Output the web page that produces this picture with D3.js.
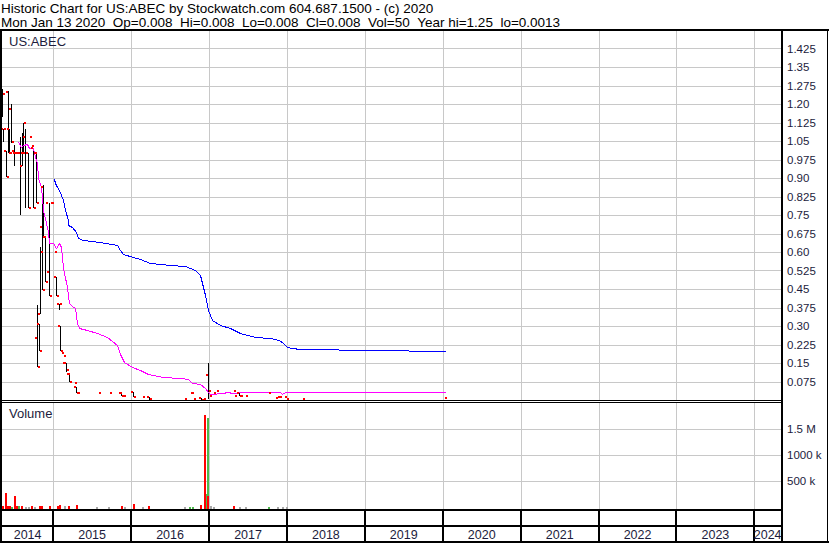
<!DOCTYPE html>
<html>
<head>
<meta charset="utf-8">
<script src="https://cdnjs.cloudflare.com/ajax/libs/d3/7.8.5/d3.min.js"></script>
<style>
body { margin: 0; background: #fff; }
svg { display: block; font-family: 'Liberation Sans', Arial, sans-serif; }
</style>
</head>
<body>
<div class="canvas"></div>
<script>
// header texts
const titleLine = 'Historic Chart for US:ABEC by Stockwatch.com 604.687.1500 - (c) 2020';
const quoteLine = 'Mon Jan 13 2020  Op=0.008  Hi=0.008  Lo=0.008  Cl=0.008  Vol=50  Year hi=1.25  lo=0.0013';
const symbol = 'US:ABEC';

// axis labels
const years = ['2014', '2015', '2016', '2017', '2018', '2019', '2020', '2021', '2022', '2023', '2024'];
const priceTicks = [0.075, 0.15, 0.225, 0.30, 0.375, 0.45, 0.525, 0.60, 0.675, 0.75, 0.825, 0.90, 0.975, 1.05, 1.125, 1.20, 1.275, 1.35, 1.425];
const volTicks = [500000, 1000000, 1500000];
const volLabels = ['500 k', '1000 k', '1.5 M'];

// price bars
const barDates = ['2014-05-08', '2014-05-12', '2014-05-26', '2014-06-04', '2014-06-10', '2014-06-16', '2014-06-26', '2014-07-03',
    '2014-07-12', '2014-07-21', '2014-07-29', '2014-08-07', '2014-08-14', '2014-08-22', '2014-09-05', '2014-09-13',
    '2014-09-24', '2014-09-29', '2014-10-07', '2014-10-12', '2014-10-19', '2014-10-26', '2014-11-02', '2014-11-09',
    '2014-11-16', '2014-11-22', '2014-11-29', '2014-12-13', '2014-12-20', '2014-12-27', '2015-01-08', '2015-01-14',
    '2015-01-20', '2015-01-26', '2015-02-02', '2015-02-09', '2015-02-14', '2015-02-19', '2015-03-04', '2015-03-10',
    '2015-03-14', '2015-04-12', '2015-04-19', '2015-04-26', '2015-08-03', '2015-09-23', '2015-11-09', '2015-11-17',
    '2015-11-28', '2016-01-11', '2016-02-24', '2016-03-26', '2016-09-12', '2016-10-08', '2016-10-14', '2016-10-21',
    '2016-11-23', '2016-12-10', '2016-12-28', '2017-01-05', '2017-01-24', '2017-02-08', '2017-04-27', '2017-05-04',
    '2017-05-22', '2017-05-30', '2017-06-22', '2017-10-08', '2017-11-10', '2017-11-22', '2017-11-29', '2017-12-22',
    '2017-12-30', '2018-03-15', '2020-01-13'];
const barOpen = [1.15, 1.10, 1.01, 1.25, 1.10, 1.18, 1.00, 1.01, 1.00, 1.00, 1.00, 0.95, 1.00, 1.00, 1.00, 1.066,
    1.03, 1.02, 1.00, 1.00, 0.25, 0.31, 0.35, 0.70, 0.865, 0.66, 0.80, 0.52, 0.80, 0.80, 0.60, 0.50,
    0.42, 0.39, 0.30, 0.19, 0.15, 0.18, 0.15, 0.104, 0.105, 0.070, 0.054, 0.03, 0.03, 0.03, 0.03, 0.03,
    0.016, 0.034, 0.0134, 0.0134, 0.004, 0.027, 0.027, 0.004, 0.009, 0.003, 0.10, 0.016, 0.027, 0.038, 0.038, 0.017,
    0.03, 0.017, 0.017, 0.027, 0.009, 0.013, 0.013, 0.013, 0.004, 0.004, 0.008];
const barHigh = [1.26, 1.10, 1.01, 1.253, 1.10, 1.20, 1.00, 1.034, 1.00, 1.00, 1.066, 1.082, 1.123, 1.10, 1.00, 1.066,
    1.03, 1.02, 1.00, 1.00, 0.385, 0.31, 0.62, 0.82, 0.87, 0.66, 0.80, 0.80, 0.80, 0.80, 0.60, 0.50,
    0.42, 0.39, 0.30, 0.19, 0.15, 0.18, 0.15, 0.104, 0.105, 0.070, 0.054, 0.03, 0.03, 0.03, 0.03, 0.03,
    0.016, 0.034, 0.0134, 0.0134, 0.004, 0.027, 0.027, 0.004, 0.009, 0.003, 0.151, 0.016, 0.027, 0.038, 0.038, 0.017,
    0.03, 0.017, 0.017, 0.027, 0.009, 0.013, 0.013, 0.013, 0.004, 0.004, 0.008];
const barLow = [1.147, 1.046, 0.905, 1.00, 1.00, 1.042, 1.00, 0.949, 1.00, 1.00, 0.75, 0.95, 0.997, 0.78, 0.78, 1.066,
    1.03, 0.78, 1.00, 0.80, 0.134, 0.20, 0.35, 0.446, 0.657, 0.48, 0.80, 0.42, 0.80, 0.80, 0.60, 0.42,
    0.42, 0.365, 0.20, 0.19, 0.15, 0.18, 0.115, 0.104, 0.073, 0.070, 0.03, 0.03, 0.03, 0.03, 0.03, 0.016,
    0.016, 0.0134, 0.0134, 0.001, 0.004, 0.027, 0.027, 0.004, 0.001, 0.003, 0.003, 0.016, 0.027, 0.038, 0.038, 0.017,
    0.016, 0.017, 0.017, 0.027, 0.009, 0.013, 0.013, 0.013, 0.004, 0.004, 0.008];
const barClose = [1.24, 1.10, 0.905, 1.00, 1.00, 1.046, 1.00, 1.00, 1.00, 1.00, 1.00, 1.066, 1.123, 1.00, 0.78, 1.066,
    1.03, 0.78, 1.00, 0.80, 0.134, 0.20, 0.60, 0.446, 0.66, 0.48, 0.80, 0.42, 0.80, 0.80, 0.60, 0.42,
    0.42, 0.39, 0.20, 0.19, 0.15, 0.18, 0.12, 0.104, 0.074, 0.070, 0.03, 0.03, 0.03, 0.03, 0.03, 0.016,
    0.016, 0.0134, 0.0134, 0.004, 0.004, 0.027, 0.027, 0.004, 0.002, 0.003, 0.038, 0.016, 0.027, 0.038, 0.038, 0.017,
    0.017, 0.017, 0.017, 0.027, 0.009, 0.013, 0.013, 0.013, 0.004, 0.004, 0.008];

// moving averages
const maShortDates = ['2014-07-21', '2014-08-01', '2014-08-13', '2014-08-29', '2014-09-10', '2014-09-29', '2014-10-10',
    '2014-10-18', '2014-10-24', '2014-11-03', '2014-11-09', '2014-11-15', '2014-11-28', '2014-12-09', '2014-12-14',
    '2015-01-01', '2015-01-12', '2015-01-28', '2015-02-06', '2015-02-17', '2015-03-05', '2015-03-14', '2015-03-28',
    '2015-04-13', '2015-04-24', '2015-05-02', '2015-06-07', '2015-07-24', '2015-09-08', '2015-10-25', '2015-11-10',
    '2015-11-28', '2016-01-04', '2016-02-11', '2016-03-21', '2016-05-31', '2016-08-17', '2016-09-25', '2016-10-11',
    '2016-11-19', '2016-12-12', '2016-12-28', '2017-01-05', '2017-03-08', '2017-03-24', '2017-04-24', '2017-06-18',
    '2017-11-29', '2017-12-07', '2017-12-22', '2020-01-13'];
const maShortValues = [1.047, 1.027, 1.034, 1.038, 1.020, 1.020, 0.986, 0.960, 0.899, 0.865, 0.824, 0.770, 0.716,
    0.682, 0.638, 0.635, 0.617, 0.638, 0.621, 0.534, 0.459, 0.392, 0.381, 0.372, 0.311, 0.291, 0.284, 0.273, 0.254,
    0.223, 0.186, 0.155, 0.135, 0.122, 0.104, 0.094, 0.090, 0.084, 0.070, 0.065, 0.047, 0.034, 0.024, 0.027, 0.031,
    0.027, 0.031, 0.031, 0.023, 0.031, 0.031];
const maLongDates = ['2015-01-05', '2015-01-09', '2015-01-17', '2015-01-29', '2015-02-06', '2015-02-14', '2015-02-25',
    '2015-03-10', '2015-03-12', '2015-03-28', '2015-04-17', '2015-04-25', '2015-05-22', '2015-08-08', '2015-10-25',
    '2015-11-10', '2015-11-25', '2016-01-11', '2016-02-12', '2016-03-29', '2016-07-01', '2016-09-09', '2016-10-26',
    '2016-11-19', '2016-12-12', '2016-12-26', '2017-01-14', '2017-02-21', '2017-04-09', '2017-05-26', '2017-08-04',
    '2017-10-13', '2017-11-26', '2017-12-14', '2017-12-30', '2018-01-23', '2018-03-03', '2018-08-29', '2018-09-01',
    '2019-07-23', '2019-07-27', '2020-01-13'];
const maLongValues = [0.896, 0.878, 0.862, 0.851, 0.831, 0.811, 0.770, 0.730, 0.709, 0.703, 0.682, 0.656, 0.649,
    0.642, 0.628, 0.608, 0.592, 0.581, 0.570, 0.555, 0.547, 0.543, 0.527, 0.507, 0.426, 0.365, 0.324, 0.304, 0.292,
    0.272, 0.255, 0.251, 0.243, 0.230, 0.216, 0.210, 0.206, 0.206, 0.201, 0.201, 0.197, 0.197];

// volume (u = up, d = down, n = unchanged)
const volDates = ['2014-05-07', '2014-05-21', '2014-05-28', '2014-06-04', '2014-06-10', '2014-06-16', '2014-07-02',
    '2014-07-10', '2014-07-20', '2014-08-05', '2014-08-20', '2014-09-05', '2014-09-20', '2014-10-05', '2014-10-25',
    '2014-11-05', '2014-12-10', '2015-01-20', '2015-01-29', '2015-02-20', '2015-03-10', '2015-04-17', '2015-07-22',
    '2015-09-13', '2015-11-15', '2015-11-28', '2016-01-09', '2016-02-21', '2016-03-22', '2016-09-07', '2016-10-01',
    '2016-10-11', '2016-11-21', '2016-12-09', '2016-12-16', '2016-12-22', '2016-12-23', '2017-01-05', '2017-01-20',
    '2017-04-22', '2017-05-20', '2017-06-20', '2017-10-02', '2017-11-15', '2017-12-10', '2017-12-28'];
const volValues = [19000, 277000, 28000, 28000, 28000, 8000, 208000, 10000, 19000, 25000, 8000, 8000, 25000, 8000,
    20000, 10000, 12000, 15000, 47000, 15000, 12000, 38000, 8000, 8000, 15000, 8000, 57000, 8000, 28000, 8000, 8000,
    8000, 38000, 1755000, 245000, 1710000, 202000, 15000, 8000, 12000, 8000, 8000, 8000, 8000, 8000, 8000];
const volDir = ['d', 'd', 'd', 'd', 'd', 'u', 'd', 'd', 'u', 'd', 'n', 'n', 'd', 'n', 'd', 'd', 'd', 'd', 'd', 'n', 'd',
    'd', 'n', 'n', 'd', 'n', 'd', 'n', 'd', 'n', 'u', 'u', 'd', 'd', 'u', 'u', 'd', 'n', 'n', 'd', 'n', 'n', 'u', 'n', 'n', 'n'];

const parse = d3.timeParse('%Y-%m-%d');

// select svg container
const svg = d3.select('.canvas')
    .append('svg')
    .attr('width', 830)
    .attr('height', 543)
    .attr('shape-rendering', 'crispEdges');

// layout
const left = 2, right = 781;
const priceTop = 31, priceBottom = 400;
const volTop = 403, volBottom = 509;
const textColor = '#1c1c3c';
const gridColor = '#c8c8c8';

// scales
const x = d3.scaleTime()
    .domain([parse('2014-05-06'), parse('2024-05-05')])
    .range([left, right]);
const yPrice = d3.scaleLinear()
    .domain([0, 1.5])
    .range([priceBottom, 30]);
const yVol = d3.scaleLinear()
    .domain([0, 1500000])
    .range([507, 428.5]);

const yearStarts = years.slice(1).map(y => parse(y + '-01-01'));

// header - double spaces kept with a no-break space
svg.append('text').attr('x', 1).attr('y', 12.5).attr('font-size', 13.5).attr('fill', '#000').text(titleLine);
svg.append('text').attr('x', 1).attr('y', 27).attr('font-size', 13.5).attr('fill', '#000')
    .text(quoteLine.replace(/  /g, ' \u00a0'));

// grid - horizontal price
const grid = svg.append('g');
grid.selectAll('line.py')
    .data(priceTicks)
    .enter().append('line')
    .attr('x1', left).attr('x2', right)
    .attr('y1', d => Math.round(yPrice(d)) + 0.5).attr('y2', d => Math.round(yPrice(d)) + 0.5)
    .attr('stroke', gridColor);
grid.selectAll('line.vy')
    .data(volTicks)
    .enter().append('line')
    .attr('x1', left).attr('x2', right)
    .attr('y1', d => Math.round(yVol(d)) + 0.5).attr('y2', d => Math.round(yVol(d)) + 0.5)
    .attr('stroke', gridColor);
// grid - vertical year lines
grid.selectAll('line.px')
    .data(yearStarts)
    .enter().append('line')
    .attr('x1', d => Math.round(x(d)) + 0.5).attr('x2', d => Math.round(x(d)) + 0.5)
    .attr('y1', priceTop).attr('y2', priceBottom)
    .attr('stroke', gridColor);
grid.selectAll('line.vx')
    .data(yearStarts)
    .enter().append('line')
    .attr('x1', d => Math.round(x(d)) + 0.5).attr('x2', d => Math.round(x(d)) + 0.5)
    .attr('y1', volTop).attr('y2', volBottom)
    .attr('stroke', gridColor);

// right axis labels
const priceAxis = d3.axisRight(yPrice)
    .tickValues(priceTicks)
    .tickSize(0)
    .tickPadding(5)
    .tickFormat(d => {
        const s = d.toFixed(3);
        return s.endsWith('0') ? s.slice(0, -1) : s;
    });
const priceAxisGroup = svg.append('g')
    .attr('transform', `translate(${right + 1}, 0)`)
    .call(priceAxis);
priceAxisGroup.select('.domain').remove();
priceAxisGroup.selectAll('text').attr('font-size', 11.5).attr('fill', textColor).attr('font-family', null);

const volAxis = d3.axisRight(yVol)
    .tickValues(volTicks)
    .tickSize(0)
    .tickPadding(5)
    .tickFormat((d, i) => volLabels[i]);
const volAxisGroup = svg.append('g')
    .attr('transform', `translate(${right + 1}, 0)`)
    .call(volAxis);
volAxisGroup.select('.domain').remove();
volAxisGroup.selectAll('text').attr('font-size', 11.5).attr('fill', textColor).attr('font-family', null);

// moving averages + bars
const bars = barDates.map((d, i) => ({
    date: parse(d), op: barOpen[i], hi: barHigh[i], lo: barLow[i], cl: barClose[i]
}));
const px = d => Math.round(x(d.date));

svg.append('g').selectAll('rect')
    .data(bars.filter(d => d.hi > d.lo))
    .enter().append('rect')
    .attr('x', px)
    .attr('y', d => Math.round(yPrice(d.hi)))
    .attr('width', 1)
    .attr('height', d => Math.max(1, Math.round(yPrice(d.lo)) - Math.round(yPrice(d.hi))))
    .attr('fill', '#000');

const maLine = d3.line()
    .x(d => Math.round(x(d.date)) + 0.5)
    .y(d => Math.round(yPrice(d.v)) + 0.5);
const maShort = maShortDates.map((d, i) => ({ date: parse(d), v: maShortValues[i] }));
const maLong = maLongDates.map((d, i) => ({ date: parse(d), v: maLongValues[i] }));
svg.append('path').attr('d', maLine(maShort)).attr('fill', 'none').attr('stroke', '#ff00ff').attr('stroke-width', 1);
svg.append('path').attr('d', maLine(maLong)).attr('fill', 'none').attr('stroke', '#0000ff').attr('stroke-width', 1);

// open ticks (only where there is a range) and close ticks
svg.append('g').selectAll('rect')
    .data(bars.filter(d => d.hi > d.lo))
    .enter().append('rect')
    .attr('x', d => px(d) - 2)
    .attr('y', d => Math.round(yPrice(d.op)) - 1)
    .attr('width', 2).attr('height', 2)
    .attr('fill', '#ff0000');
svg.append('g').selectAll('rect')
    .data(bars)
    .enter().append('rect')
    .attr('x', d => px(d) + (d.hi > d.lo ? 1 : 0))
    .attr('y', d => Math.round(yPrice(d.cl)) - 1)
    .attr('width', 2).attr('height', 2)
    .attr('fill', '#ff0000');

// volume bars
const volColor = { u: '#4cb84c', d: '#ff0000', n: '#a8a8a8' };
const vols = volDates.map((d, i) => ({ date: parse(d), v: volValues[i], dir: volDir[i] }));
svg.append('g').selectAll('rect')
    .data(vols)
    .enter().append('rect')
    .attr('x', d => Math.round(x(d.date)))
    .attr('y', d => Math.round(yVol(d.v)))
    .attr('width', 2)
    .attr('height', d => volBottom - Math.round(yVol(d.v)))
    .attr('fill', d => volColor[d.dir]);

// panel titles
svg.append('text').attr('x', 9).attr('y', 46).attr('font-size', 13).attr('fill', textColor).text(symbol);
svg.append('text').attr('x', 9).attr('y', 418).attr('font-size', 13).attr('fill', textColor).text('Volume');

// frame
const frame = svg.append('g').attr('fill', '#000');
frame.append('rect').attr('x', 0).attr('y', 29).attr('width', 829).attr('height', 2);
frame.append('rect').attr('x', 0).attr('y', 29).attr('width', 2).attr('height', 514);
frame.append('rect').attr('x', right).attr('y', 29).attr('width', 2).attr('height', 514);
frame.append('rect').attr('x', 827).attr('y', 29).attr('width', 1).attr('height', 514);
frame.append('rect').attr('x', 0).attr('y', priceBottom).attr('width', right).attr('height', 1);
frame.append('rect').attr('x', 0).attr('y', 402).attr('width', right).attr('height', 1);
frame.append('rect').attr('x', 0).attr('y', volBottom).attr('width', right).attr('height', 2);
frame.append('rect').attr('x', 0).attr('y', 525).attr('width', right).attr('height', 2);
frame.append('rect').attr('x', 0).attr('y', 541).attr('width', 829).attr('height', 2);

// x axis year separators
frame.selectAll('rect.yr')
    .data(yearStarts)
    .enter().append('rect')
    .attr('x', d => Math.round(x(d)) - 1)
    .attr('y', volBottom)
    .attr('width', 2)
    .attr('height', 541 - volBottom);

// year labels, centred in their cells
const [d0, d1] = x.domain();
svg.append('g').selectAll('text')
    .data(years)
    .enter().append('text')
    .attr('x', y => {
        const a = Math.max(x(parse(y + '-01-01')), x(d0));
        const b = Math.min(x(parse((+y + 1) + '-01-01')), x(d1));
        return (a + b) / 2;
    })
    .attr('y', 539)
    .attr('text-anchor', 'middle')
    .attr('font-size', 12.5)
    .attr('fill', textColor)
    .text(y => y);
</script>
</body>
</html>
